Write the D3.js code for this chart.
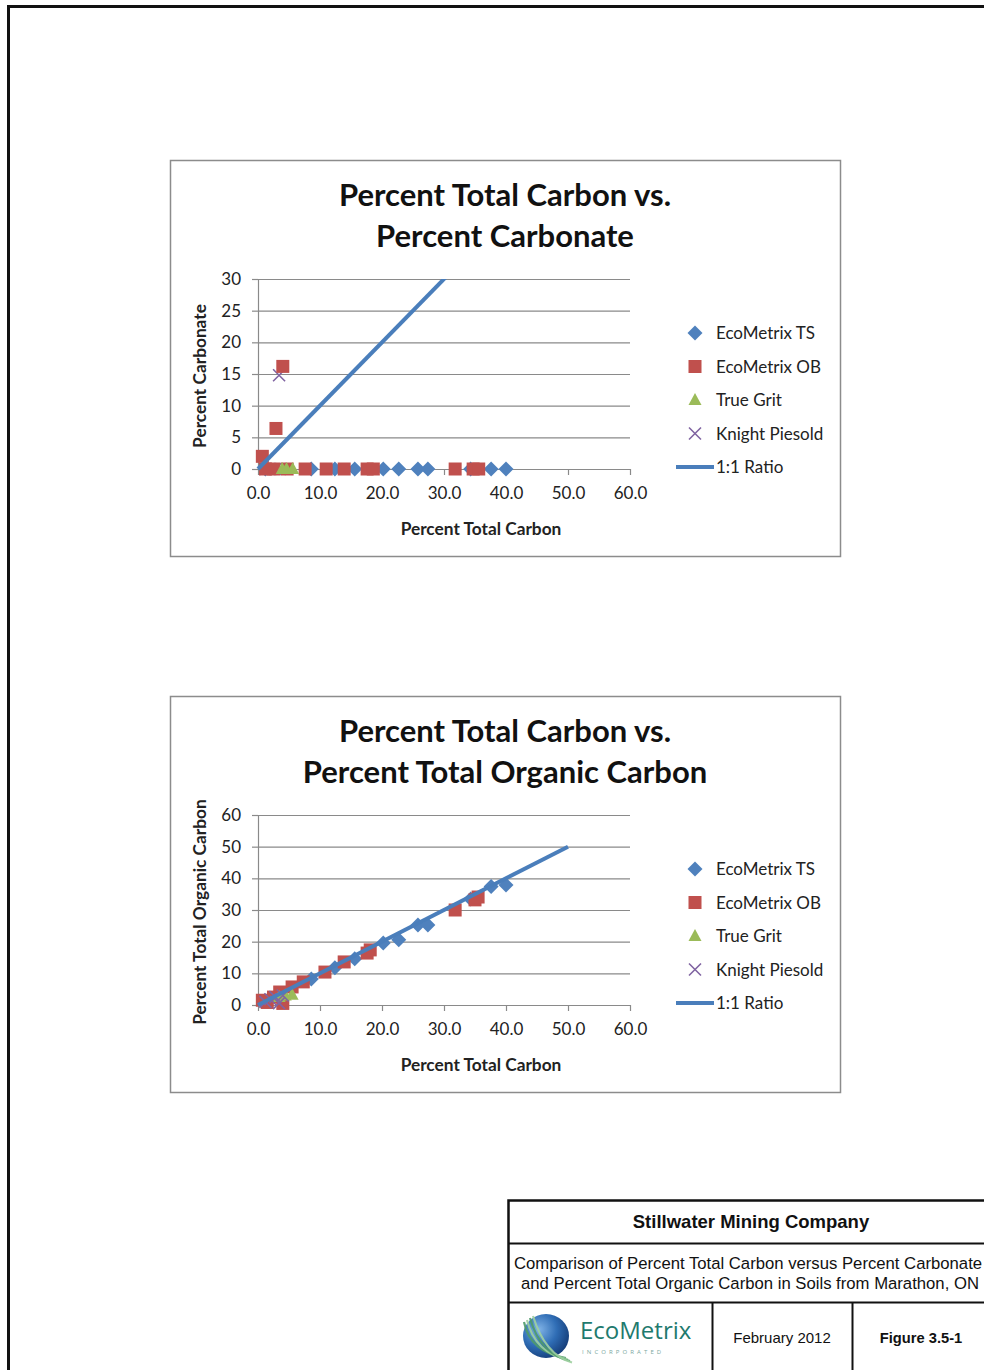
<!DOCTYPE html>
<html>
<head>
<meta charset="utf-8">
<script src="https://cdn.jsdelivr.net/npm/d3@7"></script>
<style>
  body { margin: 0; background: #fff; }
  svg { display: block; }
</style>
</head>
<body>
<svg id="page" width="984" height="1370"></svg>
<script>
// ---- data ----
// chart 1: percent total carbon (x) vs percent carbonate (y)
const tsCarbonate = [[1.2, 0], [8.6, 0], [12.4, 0], [15.6, 0], [20.2, 0], [22.7, 0], [25.8, 0], [27.4, 0], [34.3, 0], [37.6, 0], [40.0, 0]];
const obCarbonate = [[0.7, 2.0], [2.9, 6.4], [4.0, 16.2], [1.2, 0], [2.5, 0], [4.7, 0], [7.6, 0], [11.0, 0], [13.9, 0], [17.6, 0], [18.6, 0], [31.8, 0], [34.7, 0], [35.6, 0]];
const gritCarbonate = [[3.9, 0], [4.6, 0], [5.6, 0]];
const knightCarbonate = [[3.4, 14.8], [1.2, 0], [2.0, 0], [2.8, 0], [3.5, 0]];

// chart 2: percent total carbon (x) vs percent total organic carbon (y)
const tsOrganic = [[8.6, 8.2], [12.4, 11.8], [15.6, 14.6], [20.2, 19.6], [22.7, 20.6], [25.8, 25.3], [27.4, 25.3], [34.3, 33.5], [37.6, 37.4], [40.0, 37.9]];
const obOrganic = [[0.7, 1.5], [1.5, 0.8], [2.5, 2.5], [3.5, 4.1], [4.0, 0.5], [5.5, 5.7], [7.3, 7.3], [10.8, 10.4], [13.9, 13.6], [17.6, 16.4], [18.1, 17.4], [31.8, 30.0], [35.0, 33.2], [35.5, 34.1]];
const gritOrganic = [[3.4, 2.5], [4.4, 3.0], [5.5, 3.2]];
const knightOrganic = [[1.2, 1.0], [2.0, 1.8], [2.8, 2.5], [3.4, 0.6], [4.0, 3.0]];

// 1:1 reference line
const ratioLine = [[0, 0], [50, 50]];

const xTicks = [0, 10, 20, 30, 40, 50, 60];
const yTicksCarbonate = [0, 5, 10, 15, 20, 25, 30];
const yTicksOrganic = [0, 10, 20, 30, 40, 50, 60];
const legendNames = ["EcoMetrix TS", "EcoMetrix OB", "True Grit", "Knight Piesold", "1:1 Ratio"];

const colors = { ts: "#4F81BD", ob: "#C0504D", grit: "#9BBB59", knight: "#8064A2", line: "#4A7EBB" };
const font = "Lato, 'Open Sans', sans-serif";

const svg = d3.select("#page");

// page border (left and top)
svg.append("path")
  .attr("d", "M8.5,1370 V6.5 H984")
  .attr("fill", "none")
  .attr("stroke", "#111")
  .attr("stroke-width", 3);

// marker drawing helper
const drawMarker = (g, type, x, y) => {
  if (type === "ts") {
    g.append("path").attr("d", `M${x},${y - 7.5} L${x + 7.5},${y} L${x},${y + 7.5} L${x - 7.5},${y} Z`)
      .attr("fill", colors.ts);
  } else if (type === "ob") {
    g.append("rect").attr("x", x - 6.5).attr("y", y - 6.5).attr("width", 13).attr("height", 13)
      .attr("fill", colors.ob);
  } else if (type === "grit") {
    g.append("path").attr("d", `M${x},${y - 7} L${x + 6.5},${y + 5} L${x - 6.5},${y + 5} Z`)
      .attr("fill", colors.grit);
  } else if (type === "knight") {
    g.append("path").attr("d", `M${x - 6},${y - 6} L${x + 6},${y + 6} M${x + 6},${y - 6} L${x - 6},${y + 6}`)
      .attr("stroke", colors.knight).attr("stroke-width", 1.6).attr("fill", "none");
  }
};

//Drawing one chart panel
const drawChart = (opts) => {
  const { top, titleLines, yLabel, yMax, yTicks, series, clipId } = opts;
  const g = svg.append("g");
  const boxH = 396;

  g.append("rect")
    .attr("x", 170.5).attr("y", top + 0.5)
    .attr("width", 670).attr("height", boxH)
    .attr("fill", "#fff").attr("stroke", "#8c8c8c").attr("stroke-width", 1.5);

  titleLines.forEach((t, i) => {
    g.append("text")
      .attr("x", 505).attr("y", top + 46 + i * 41)
      .attr("text-anchor", "middle")
      .attr("font-family", font).attr("font-weight", "bold").attr("font-size", 31)
      .attr("fill", "#111")
      .text(t);
  });

  const plotTop = top + 119, plotBottom = top + 309;
  const xScale = d3.scaleLinear().domain([0, 60]).range([258, 630]);
  const yScale = d3.scaleLinear().domain([0, yMax]).range([plotBottom, plotTop]);

  // gridlines
  g.append("g")
    .attr("transform", "translate(258,0)")
    .call(d3.axisLeft(yScale).tickValues(yTicks.slice(1)).tickSize(-372).tickFormat(""))
    .call((a) => a.select(".domain").remove())
    .call((a) => a.selectAll("line").attr("stroke", "#8a8a8a").attr("stroke-width", 1.2));

  // y axis
  g.append("g")
    .attr("transform", "translate(258,0)")
    .call(d3.axisLeft(yScale).tickValues(yTicks).tickSize(6).tickSizeOuter(0).tickPadding(11))
    .call((a) => a.select(".domain").attr("stroke", "#8a8a8a").attr("stroke-width", 1.2))
    .call((a) => a.selectAll("line").attr("stroke", "#8a8a8a").attr("stroke-width", 1.2))
    .call((a) => a.selectAll("text").attr("font-family", font).attr("font-size", 17).attr("fill", "#222"));

  // x axis
  g.append("g")
    .attr("transform", `translate(0,${plotBottom})`)
    .call(d3.axisBottom(xScale).tickValues(xTicks).tickSize(6).tickSizeOuter(0).tickPadding(12).tickFormat(d3.format(".1f")))
    .call((a) => a.select(".domain").attr("stroke", "#8a8a8a").attr("stroke-width", 1.2))
    .call((a) => a.selectAll("line").attr("stroke", "#8a8a8a").attr("stroke-width", 1.2))
    .call((a) => a.selectAll("text").attr("font-family", font).attr("font-size", 17).attr("fill", "#222"));

  // axis titles
  g.append("text")
    .attr("transform", `translate(206,${(plotTop + plotBottom) / 2 + 2}) rotate(-90)`)
    .attr("text-anchor", "middle")
    .attr("font-family", font).attr("font-weight", "bold").attr("font-size", 17.3).attr("fill", "#222")
    .text(yLabel);
  g.append("text")
    .attr("x", 481).attr("y", top + 375)
    .attr("text-anchor", "middle")
    .attr("font-family", font).attr("font-weight", "bold").attr("font-size", 17.3).attr("fill", "#222")
    .text("Percent Total Carbon");

  // clip for 1:1 line
  svg.append("clipPath").attr("id", clipId)
    .append("rect").attr("x", 250).attr("y", plotTop).attr("width", 400).attr("height", plotBottom - plotTop + 10);

  const line = d3.line().x((d) => xScale(d[0])).y((d) => yScale(d[1]));

  // markers (TS, OB, grit, knight)
  const marks = g.append("g");
  series.forEach(([type, data]) => {
    data.forEach((d) => drawMarker(marks, type, xScale(d[0]), yScale(d[1])));
  });

  g.append("path")
    .datum(ratioLine)
    .attr("d", line)
    .attr("clip-path", `url(#${clipId})`)
    .attr("fill", "none")
    .attr("stroke", colors.line)
    .attr("stroke-width", 4);

  // legend
  const legend = g.append("g");
  const types = ["ts", "ob", "grit", "knight"];
  legendNames.forEach((name, i) => {
    const ly = top + 173 + i * 33.5;
    if (i < 4) {
      drawMarker(legend, types[i], 695, ly);
    } else {
      legend.append("line").attr("x1", 676).attr("x2", 714).attr("y1", ly).attr("y2", ly)
        .attr("stroke", colors.line).attr("stroke-width", 4);
    }
    legend.append("text")
      .attr("x", 716).attr("y", ly + 6)
      .attr("font-family", font).attr("font-size", 17).attr("fill", "#222")
      .text(name);
  });
};

drawChart({
  top: 160,
  titleLines: ["Percent Total Carbon vs.", "Percent Carbonate"],
  yLabel: "Percent Carbonate",
  yMax: 30,
  yTicks: yTicksCarbonate,
  clipId: "clip1",
  series: [["knight", knightCarbonate], ["ts", tsCarbonate], ["ob", obCarbonate], ["grit", gritCarbonate]],
});

drawChart({
  top: 696,
  titleLines: ["Percent Total Carbon vs.", "Percent Total Organic Carbon"],
  yLabel: "Percent Total Organic Carbon",
  yMax: 60,
  yTicks: yTicksOrganic,
  clipId: "clip2",
  series: [["ts", tsOrganic], ["ob", obOrganic], ["grit", gritOrganic], ["knight", knightOrganic]],
});

// ---- title block ----
const tb = svg.append("g");
const arial = "'Liberation Sans', Arial, sans-serif";
tb.append("rect")
  .attr("x", 508.5).attr("y", 1200.5).attr("width", 500).attr("height", 200)
  .attr("fill", "#fff").attr("stroke", "#111").attr("stroke-width", 2.5);
tb.append("line").attr("x1", 508).attr("x2", 984).attr("y1", 1243.5).attr("y2", 1243.5).attr("stroke", "#111").attr("stroke-width", 2);
tb.append("line").attr("x1", 508).attr("x2", 984).attr("y1", 1302.5).attr("y2", 1302.5).attr("stroke", "#111").attr("stroke-width", 2);
tb.append("line").attr("x1", 712.5).attr("x2", 712.5).attr("y1", 1302).attr("y2", 1370).attr("stroke", "#111").attr("stroke-width", 2);
tb.append("line").attr("x1", 852.5).attr("x2", 852.5).attr("y1", 1302).attr("y2", 1370).attr("stroke", "#111").attr("stroke-width", 2);

tb.append("text").attr("x", 751).attr("y", 1228).attr("text-anchor", "middle")
  .attr("font-family", arial).attr("font-weight", "bold").attr("font-size", 18.5).attr("fill", "#111")
  .text("Stillwater Mining Company");
tb.append("text").attr("x", 748).attr("y", 1269).attr("text-anchor", "middle")
  .attr("font-family", arial).attr("font-size", 16.7).attr("fill", "#111")
  .text("Comparison of Percent Total Carbon versus Percent Carbonate");
tb.append("text").attr("x", 750).attr("y", 1289).attr("text-anchor", "middle")
  .attr("font-family", arial).attr("font-size", 16.7).attr("fill", "#111")
  .text("and Percent Total Organic Carbon in Soils from Marathon, ON");
tb.append("text").attr("x", 782).attr("y", 1343).attr("text-anchor", "middle")
  .attr("font-family", arial).attr("font-size", 15).attr("fill", "#111")
  .text("February 2012");
tb.append("text").attr("x", 921).attr("y", 1343).attr("text-anchor", "middle")
  .attr("font-family", arial).attr("font-weight", "bold").attr("font-size", 14.7).attr("fill", "#111")
  .text("Figure 3.5-1");

// logo: globe with swooshes and wordmark
const defs = svg.append("defs");
const grad = defs.append("radialGradient").attr("id", "globe").attr("cx", "35%").attr("cy", "35%").attr("r", "70%");
grad.append("stop").attr("offset", "0%").attr("stop-color", "#7fb2e6");
grad.append("stop").attr("offset", "55%").attr("stop-color", "#2f6db5");
grad.append("stop").attr("offset", "100%").attr("stop-color", "#163e7a");
const logo = tb.append("g");
logo.append("ellipse").attr("cx", 546).attr("cy", 1336).attr("rx", 23).attr("ry", 22).attr("fill", "url(#globe)");
[0, 1, 2, 3].forEach((i) => {
  logo.append("path")
    .attr("d", `M${524 + i * 3},${1322 - i * 2} Q${530 + i * 5},${1352 + i} ${566 + i * 2},${1358 + i * 1.5}`)
    .attr("fill", "none").attr("stroke", i % 2 ? "#9fd0a0" : "#4e9a6a").attr("stroke-width", 2.2).attr("opacity", 0.9);
});
logo.append("text").attr("x", 580).attr("y", 1339)
  .attr("font-family", "'Open Sans', sans-serif").attr("font-size", 24).attr("fill", "#1f7a6e")
  .text("EcoMetrix");
logo.append("text").attr("x", 582).attr("y", 1354)
  .attr("font-family", "'Open Sans', sans-serif").attr("font-size", 6).attr("letter-spacing", 3.1).attr("fill", "#7aa7a0")
  .text("INCORPORATED");
</script>
</body>
</html>
